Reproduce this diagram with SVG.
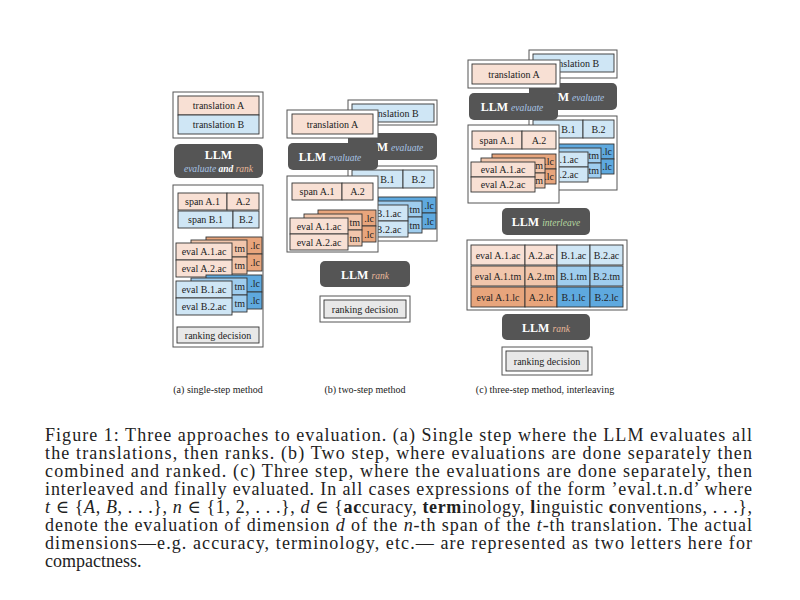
<svg xmlns="http://www.w3.org/2000/svg" width="800" height="600" viewBox="0 0 800 600">
<style>
text{font-family:"Liberation Serif","DejaVu Serif",serif;fill:#222}
.t{font-size:10px;text-anchor:middle}
.e{font-size:10px;text-anchor:end}
.b{stroke:#333;stroke-width:0.9}
.o{fill:#fff;stroke:#555;stroke-width:1}
.pa{fill:#f8e0d4}.pb{fill:#f1c6ac}.pc{fill:#e8a57c}
.qa{fill:#cfe6f5}.qb{fill:#9fcdee}.qc{fill:#5ea9df}
.llm{fill:#555}
.lt{font-size:12px;font-weight:bold;fill:#fff;text-anchor:middle}
.ev{font-style:italic;font-weight:normal;font-size:9.5px;fill:#a9c6e8}
.rk{font-style:italic;font-weight:normal;font-size:9.5px;fill:#e8b89a}
.il{font-style:italic;font-weight:normal;font-size:9.5px;fill:#b6d9a0}
.cap{font-size:10px;text-anchor:middle}
.fc{font-size:18px}
</style>
<rect width="800" height="600" fill="#fff"/>
<!-- panel a -->
<g id="a-trans">
<rect class="o" x="173" y="92" width="90" height="46"/>
<rect class="b pa" x="178" y="96" width="81" height="19"/><text class="t" x="218.5" y="109">translation A</text>
<rect class="b qa" x="178" y="115" width="81" height="19"/><text class="t" x="218.5" y="128">translation B</text>
</g>
<g id="a-llm"><rect class="llm" x="174" y="144" width="89" height="34" rx="6"/>
<text class="lt" x="218.5" y="159">LLM</text><text class="lt" x="218.5" y="172"><tspan class="ev">evaluate </tspan><tspan style="font-style:italic;font-size:9.5px">and</tspan><tspan class="rk"> rank</tspan></text></g>
<g id="a-out">
<rect class="o" x="173" y="185" width="90" height="162"/>
<rect class="b pa" x="178" y="193" width="49" height="17"/><text class="t" x="202.5" y="205">span A.1</text>
<rect class="b pa" x="227" y="193" width="32" height="17"/><text class="t" x="243" y="205">A.2</text>
<rect class="b qa" x="178" y="211" width="55" height="17"/><text class="t" x="205.5" y="223">span B.1</text>
<rect class="b qa" x="233" y="211" width="26" height="17"/><text class="t" x="246" y="223">B.2</text>
<rect class="b pc" x="206" y="237" width="56" height="17"/><rect class="b pc" x="206" y="254" width="56" height="17"/>
<text class="e" x="260" y="249">.lc</text><text class="e" x="260" y="266">.lc</text>
<rect class="b pb" x="191" y="240" width="56" height="17"/><rect class="b pb" x="191" y="257" width="56" height="17"/>
<text class="e" x="245" y="252">tm</text><text class="e" x="245" y="269">tm</text>
<rect class="b pa" x="176" y="243" width="56" height="17"/><rect class="b pa" x="176" y="260" width="56" height="17"/>
<text class="t" x="204" y="255">eval A.1.ac</text><text class="t" x="204" y="272">eval A.2.ac</text>
<rect class="b qc" x="206" y="275" width="56" height="17"/><rect class="b qc" x="206" y="292" width="56" height="17"/>
<text class="e" x="260" y="287">.lc</text><text class="e" x="260" y="304">.lc</text>
<rect class="b qb" x="191" y="278" width="56" height="17"/><rect class="b qb" x="191" y="295" width="56" height="17"/>
<text class="e" x="245" y="290">tm</text><text class="e" x="245" y="307">tm</text>
<rect class="b qa" x="176" y="281" width="56" height="17"/><rect class="b qa" x="176" y="298" width="56" height="17"/>
<text class="t" x="204" y="293">eval B.1.ac</text><text class="t" x="204" y="310">eval B.2.ac</text>
<rect class="b" fill="#e8e8e8" x="177" y="327" width="82" height="16"/><text class="t" x="218" y="338.5">ranking decision</text>
</g>
<text class="cap" x="218" y="393">(a) single-step method</text>
<!-- panel b -->
<g id="b-back">
<rect class="o" x="348" y="100" width="89" height="25"/><rect class="b qa" x="352" y="104" width="82" height="18"/><text class="t" x="393" y="116.5">translation B</text>
<rect class="llm" x="348" y="133" width="89" height="27" rx="5"/><text class="lt" x="392" y="151">LLM <tspan class="ev">evaluate</tspan></text>
<rect class="o" x="348" y="166" width="89" height="75"/>
<rect class="b qa" x="352" y="170" width="51" height="18"/><text class="t" x="377" y="182.5">span B.1</text>
<rect class="b qa" x="403" y="170" width="31" height="18"/><text class="t" x="418.5" y="182.5">B.2</text>
<rect class="b qc" x="378" y="197" width="58" height="16"/><rect class="b qc" x="378" y="213" width="58" height="16"/>
<text class="e" x="434" y="208.5">.lc</text><text class="e" x="434" y="224.5">.lc</text>
<rect class="b qb" x="364" y="201" width="58" height="16"/><rect class="b qb" x="364" y="217" width="58" height="16"/>
<text class="e" x="420" y="212.5">tm</text><text class="e" x="420" y="228.5">tm</text>
<rect class="b qa" x="350" y="205" width="58" height="16"/><rect class="b qa" x="350" y="221" width="58" height="16"/>
<text class="t" x="379" y="216.5">eval B.1.ac</text><text class="t" x="379" y="232.5">eval B.2.ac</text>
</g>
<g id="b-front">
<rect class="o" x="287" y="110" width="91" height="28"/><rect class="b pa" x="292" y="114" width="81" height="20"/><text class="t" x="332.5" y="127.5">translation A</text>
<rect class="llm" x="288" y="143" width="90" height="27" rx="5"/><text class="lt" x="330" y="161">LLM <tspan class="ev">evaluate</tspan></text>
<rect class="o" x="287" y="176" width="91" height="76"/>
<rect class="b pa" x="292" y="183" width="50" height="17"/><text class="t" x="317" y="195">span A.1</text>
<rect class="b pa" x="342" y="183" width="31" height="17"/><text class="t" x="357.5" y="195">A.2</text>
<rect class="b pc" x="318" y="210" width="58" height="16"/><rect class="b pc" x="318" y="226" width="58" height="16"/>
<text class="e" x="374" y="221.5">.lc</text><text class="e" x="374" y="237.5">.lc</text>
<rect class="b pb" x="304" y="214" width="58" height="16"/><rect class="b pb" x="304" y="230" width="58" height="16"/>
<text class="e" x="360" y="225.5">tm</text><text class="e" x="360" y="241.5">tm</text>
<rect class="b pa" x="290" y="218" width="58" height="16"/><rect class="b pa" x="290" y="234" width="58" height="16"/>
<text class="t" x="319" y="229.5">eval A.1.ac</text><text class="t" x="319" y="245.5">eval A.2.ac</text>
</g>
<g id="b-rank">
<rect class="llm" x="320" y="261" width="90" height="26" rx="5"/><text class="lt" x="365" y="278.5">LLM <tspan class="rk">rank</tspan></text>
<rect class="o" x="320" y="296" width="90" height="26"/><rect class="b" fill="#e8e8e8" x="324" y="300" width="82" height="18"/><text class="t" x="365" y="312.5">ranking decision</text>
</g>
<text class="cap" x="365" y="393">(b) two-step method</text>
<!-- panel c -->
<g id="c-back">
<rect class="o" x="529" y="50" width="88" height="28"/><rect class="b qa" x="533" y="54" width="81" height="18"/><text class="t" x="573.5" y="66.5">translation B</text>
<rect class="llm" x="529" y="83" width="88" height="27" rx="5"/><text class="lt" x="573" y="101">LLM <tspan class="ev">evaluate</tspan></text>
<rect class="o" x="529" y="116" width="88" height="74"/>
<rect class="b qa" x="533" y="120" width="50" height="18"/><text class="t" x="558" y="132.5">span B.1</text>
<rect class="b qa" x="583" y="120" width="31" height="18"/><text class="t" x="598.5" y="132.5">B.2</text>
<rect class="b qc" x="550" y="144" width="64" height="15"/><rect class="b qc" x="550" y="159" width="64" height="15"/>
<text class="e" x="612" y="155">.lc</text><text class="e" x="612" y="170">.lc</text>
<rect class="b qb" x="537" y="148" width="64" height="15"/><rect class="b qb" x="537" y="163" width="64" height="15"/>
<text class="e" x="599" y="159">tm</text><text class="e" x="599" y="174">tm</text>
<rect class="b qa" x="524" y="152" width="64" height="15"/><rect class="b qa" x="524" y="167" width="64" height="15"/>
<text class="t" x="556" y="163">eval B.1.ac</text><text class="t" x="556" y="178">eval B.2.ac</text>
</g>
<g id="c-front">
<rect class="o" x="468" y="60" width="92" height="28"/><rect class="b pa" x="472" y="64" width="84" height="20"/><text class="t" x="514" y="77.5">translation A</text>
<rect class="llm" x="469" y="93" width="89" height="27" rx="5"/><text class="lt" x="512" y="111">LLM <tspan class="ev">evaluate</tspan></text>
<rect class="o" x="468" y="125" width="91" height="78"/>
<rect class="b pa" x="472" y="131" width="50" height="18"/><text class="t" x="497" y="143.5">span A.1</text>
<rect class="b pa" x="522" y="131" width="34" height="18"/><text class="t" x="539" y="143.5">A.2</text>
<rect class="b pc" x="492" y="154" width="64" height="15"/><rect class="b pc" x="492" y="169" width="64" height="15"/>
<text class="e" x="554" y="165">.lc</text><text class="e" x="554" y="180">.lc</text>
<rect class="b pb" x="481" y="158" width="64" height="15"/><rect class="b pb" x="481" y="173" width="64" height="15"/>
<text class="e" x="543" y="169">tm</text><text class="e" x="543" y="184">tm</text>
<rect class="b pa" x="471" y="162" width="64" height="15"/><rect class="b pa" x="471" y="177" width="64" height="15"/>
<text class="t" x="503" y="173">eval A.1.ac</text><text class="t" x="503" y="188">eval A.2.ac</text>
</g>
<g id="c-inter"><rect class="llm" x="502" y="208" width="88" height="27" rx="5"/><text class="lt" x="546" y="226">LLM <tspan class="il">interleave</tspan></text></g>
<g id="c-table">
<rect class="o" x="467" y="240" width="160" height="70"/>
<rect class="b pa" x="471" y="245" width="54" height="20"/><rect class="b pa" x="525" y="245" width="32" height="20"/><rect class="b qa" x="557" y="245" width="33" height="20"/><rect class="b qa" x="590" y="245" width="33" height="20"/>
<rect class="b pb" x="471" y="266" width="54" height="20"/><rect class="b pb" x="525" y="266" width="32" height="20"/><rect class="b qb" x="557" y="266" width="33" height="20"/><rect class="b qb" x="590" y="266" width="33" height="20"/>
<rect class="b pc" x="471" y="287" width="54" height="20"/><rect class="b pc" x="525" y="287" width="32" height="20"/><rect class="b qc" x="557" y="287" width="33" height="20"/><rect class="b qc" x="590" y="287" width="33" height="20"/>
<text class="t" x="498" y="258.5">eval A.1.ac</text><text class="t" x="541" y="258.5">A.2.ac</text><text class="t" x="573.5" y="258.5">B.1.ac</text><text class="t" x="606.5" y="258.5">B.2.ac</text>
<text class="t" x="498" y="279.5">eval A.1.tm</text><text class="t" x="541" y="279.5">A.2.tm</text><text class="t" x="573.5" y="279.5">B.1.tm</text><text class="t" x="606.5" y="279.5">B.2.tm</text>
<text class="t" x="498" y="300.5">eval A.1.lc</text><text class="t" x="541" y="300.5">A.2.lc</text><text class="t" x="573.5" y="300.5">B.1.lc</text><text class="t" x="606.5" y="300.5">B.2.lc</text>
</g>
<g id="c-rank">
<rect class="llm" x="502" y="314" width="88" height="26" rx="5"/><text class="lt" x="546" y="331.5">LLM <tspan class="rk">rank</tspan></text>
<rect class="o" x="502" y="347" width="90" height="28"/><rect class="b" fill="#e8e8e8" x="506" y="351" width="82" height="20"/><text class="t" x="547" y="364.5">ranking decision</text>
</g>
<text class="cap" x="545" y="393">(c) three-step method, interleaving</text>
<!-- caption -->
<g>
<text class="fc" x="45" y="441" textLength="707" lengthAdjust="spacing">Figure 1:  Three approaches to evaluation.  (a) Single step where the LLM evaluates all</text>
<text class="fc" x="45" y="459" textLength="707" lengthAdjust="spacing">the translations, then ranks.  (b) Two step, where evaluations are done separately then</text>
<text class="fc" x="45" y="477" textLength="707" lengthAdjust="spacing">combined and ranked.  (c) Three step, where the evaluations are done separately, then</text>
<text class="fc" x="45" y="495" textLength="707" lengthAdjust="spacing">interleaved and finally evaluated.  In all cases expressions of the form ’eval.t.n.d’ where</text>
<text class="fc" x="45" y="513" textLength="707" lengthAdjust="spacing"><tspan font-style="italic">t</tspan> ∈ {<tspan font-style="italic">A</tspan>, <tspan font-style="italic">B</tspan>, . . .}, <tspan font-style="italic">n</tspan> ∈ {1, 2, . . .}, <tspan font-style="italic">d</tspan> ∈ {<tspan font-weight="bold">ac</tspan>curacy, <tspan font-weight="bold">term</tspan>inology, <tspan font-weight="bold">l</tspan>inguistic <tspan font-weight="bold">c</tspan>onventions, . . .},</text>
<text class="fc" x="45" y="531" textLength="707" lengthAdjust="spacing">denote the evaluation of dimension <tspan font-style="italic">d</tspan> of the <tspan font-style="italic">n</tspan>-th span of the <tspan font-style="italic">t</tspan>-th translation.  The actual</text>
<text class="fc" x="45" y="549" textLength="707" lengthAdjust="spacing">dimensions—e.g.  accuracy, terminology, etc.— are represented as two letters here for</text>
<text class="fc" x="45" y="567">compactness.</text>
</g>
</svg>
